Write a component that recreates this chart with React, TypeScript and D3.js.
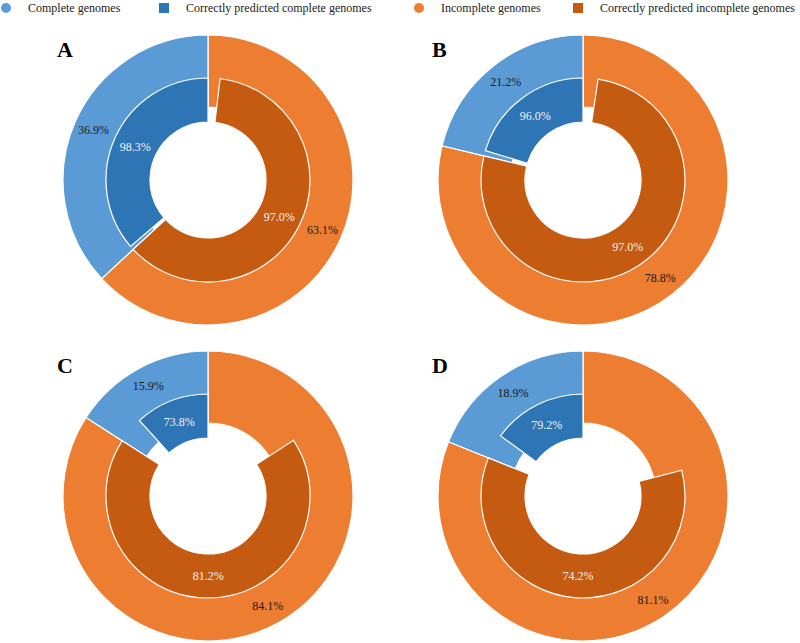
import React, { useEffect, useRef } from 'react';
import * as d3 from 'd3';

// panel letters and the numbers printed on each ring
const panelLabels = ['A', 'B', 'C', 'D'];
const completeShare = [36.9, 21.2, 15.9, 18.9];
const incompleteShare = [63.1, 78.8, 84.1, 81.1];
const completeCorrect = [98.3, 96.0, 73.8, 79.2];
const incompleteCorrect = [97.0, 97.0, 81.2, 74.2];

const legendItems = [
  { label: 'Complete genomes', shape: 'circle', color: '#5B9BD5' },
  { label: 'Correctly predicted complete genomes', shape: 'square', color: '#2E75B6' },
  { label: 'Incomplete genomes', shape: 'circle', color: '#ED7D31' },
  { label: 'Correctly predicted incomplete genomes', shape: 'square', color: '#C55A11' },
];

const WIDTH = 800;
const HEIGHT = 643;

function App() {
  const svgRef = useRef<SVGSVGElement | null>(null);

  useEffect(() => {
    const svg = d3.select(svgRef.current);
    svg.selectAll('*').remove();

    const font = '"Liberation Serif", "Times New Roman", serif';

    // legend row
    const legendX = [0, 158, 413, 572];
    const legend = svg.append('g').attr('transform', 'translate(0,8)');
    legendItems.forEach((item, i) => {
      const g = legend.append('g').attr('transform', `translate(${legendX[i]},0)`);
      if (item.shape === 'circle') {
        g.append('circle').attr('cx', 6).attr('cy', 0).attr('r', 5).attr('fill', item.color);
      } else {
        g.append('rect').attr('x', 1).attr('y', -5).attr('width', 10).attr('height', 10).attr('fill', item.color);
      }
      g.append('text')
        .attr('x', 28)
        .attr('y', 0)
        .attr('dy', '0.35em')
        .attr('font-family', font)
        .attr('font-size', 12)
        .attr('fill', '#222')
        .text(item.label);
    });

    const centersX = [208, 583];
    const centersY = [180, 496];

    const outerArc = d3.arc<any>().innerRadius(73).outerRadius(145);
    const innerArc = d3.arc<any>().innerRadius(58).outerRadius(102);
    const outerLabelArc = d3.arc<any>().innerRadius(102).outerRadius(148);

    panelLabels.forEach((name, i) => {
      const cx = centersX[i % 2];
      const cy = centersY[Math.floor(i / 2)];
      const g = svg.append('g').attr('transform', `translate(${cx},${cy})`);

      const pI = incompleteShare[i] / 100;
      const pC = completeShare[i] / 100;
      const split = 2 * Math.PI * pI;

      const outer = [
        { startAngle: 0, endAngle: split, color: '#ED7D31', text: `${incompleteShare[i].toFixed(1)}%` },
        { startAngle: split, endAngle: 2 * Math.PI, color: '#5B9BD5', text: `${completeShare[i].toFixed(1)}%` },
      ];
      // inner slices end where their outer slice ends
      const inner = [
        {
          startAngle: split * (1 - incompleteCorrect[i] / 100),
          endAngle: split,
          color: '#C55A11',
          text: `${incompleteCorrect[i].toFixed(1)}%`,
        },
        {
          startAngle: split + 2 * Math.PI * pC * (1 - completeCorrect[i] / 100),
          endAngle: 2 * Math.PI,
          color: '#2E75B6',
          text: `${completeCorrect[i].toFixed(1)}%`,
        },
      ];

      g.selectAll('path.outer')
        .data(outer)
        .join('path')
        .attr('class', 'outer')
        .attr('d', outerArc)
        .attr('fill', d => d.color)
        .attr('stroke', '#fff')
        .attr('stroke-width', 1.2);

      g.selectAll('path.inner')
        .data(inner)
        .join('path')
        .attr('class', 'inner')
        .attr('d', innerArc)
        .attr('fill', d => d.color)
        .attr('stroke', '#fff')
        .attr('stroke-width', 1.2);

      g.selectAll('text.outer-label')
        .data(outer)
        .join('text')
        .attr('class', 'outer-label')
        .attr('transform', d => `translate(${outerLabelArc.centroid(d)})`)
        .attr('text-anchor', 'middle')
        .attr('dy', '0.35em')
        .attr('font-family', font)
        .attr('font-size', 12)
        .attr('fill', '#1a1a1a')
        .text(d => d.text);

      g.selectAll('text.inner-label')
        .data(inner)
        .join('text')
        .attr('class', 'inner-label')
        .attr('transform', d => `translate(${innerArc.centroid(d)})`)
        .attr('text-anchor', 'middle')
        .attr('dy', '0.35em')
        .attr('font-family', font)
        .attr('font-size', 12)
        .attr('fill', '#f2f2f2')
        .text(d => d.text);

      svg.append('text')
        .attr('x', cx - 151)
        .attr('y', cy - 123)
        .attr('font-family', font)
        .attr('font-size', 22)
        .attr('font-weight', 'bold')
        .attr('fill', '#000')
        .text(name);
    });
  }, []);

  return (
    <svg
      ref={svgRef}
      width={WIDTH}
      height={HEIGHT}
      style={{ position: 'absolute', left: 0, top: 0, background: '#fff' }}
    />
  );
}

export default App;
